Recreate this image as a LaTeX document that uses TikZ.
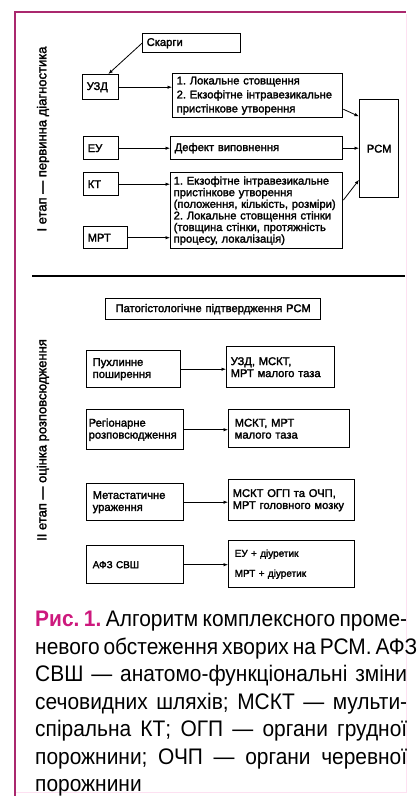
\documentclass[tikz,border=0pt]{standalone}
\usepackage{fontspec}
\usepackage{xcolor}
\usepackage{tikz}
\usetikzlibrary{arrows.meta}

\setmainfont{Liberation Sans}
\newfontfamily\diafont{Liberation Sans}[FakeBold=2]
\newfontfamily\capfont{Liberation Sans}[FakeStretch=0.93]

\definecolor{framemag}{RGB}{170,40,110}
\definecolor{rismag}{RGB}{205,25,125}

\newcommand{\capline}[1]{\makebox[372pt][s]{#1}}

\begin{document}
\frenchspacing
\begin{tikzpicture}[
                    x=1pt, y=-1pt,
                    box/.style={draw, line width=1.4pt, anchor=north west,
                        inner xsep=4pt, inner ysep=0pt, align=left,
                        font=\diafont\fontsize{11.2}{12}\selectfont},
                    arr/.style={-{Latex[length=4.5pt,width=3.5pt]}, line width=0.8pt},
                    stagelabel/.style={rotate=90, inner sep=0pt,
                        font=\diafont\fontsize{13}{14}\selectfont}
                    ]
                \useasboundingbox (0,0) rectangle (420,796);

                % frame
                \draw[
                    color=magenta!12,
                    line width=1pt
                    ] (406,14) -- (406,792) -- (15,792);
                \draw[
                    color=framemag,
                    line width=2.2pt
                    ] (15,796) -- (15,12) -- (406,12);

                % I stage
                \node[stagelabel] (stage1) at (43,139) {I етап — первинна діагностика};

                \node[box, text width=90pt, minimum height=19pt] (skargy) at (142,33) {Скарги};
                \node[box, text width=28pt, minimum height=25pt] (uzd) at (82,74) {УЗД};
                \node[box, text width=162pt, minimum height=44pt,
                    font=\diafont\fontsize{11.2}{14}\selectfont] (loc) at (172,73)
                    {1. Локальне стовщення\\2. Екзофітне інтравезикальне\\пристінкове утворення};
                \node[box, text width=31pt, minimum height=98pt, align=center] (rsm) at (359,99) {РСМ};
                \node[box, text width=27pt, minimum height=23pt] (eu) at (83,136) {ЕУ};
                \node[box, text width=164pt, minimum height=23pt] (defect) at (170,136) {Дефект виповнення};
                \node[box, text width=27pt, minimum height=23pt] (kt) at (83,172) {КТ};
                \node[box, text width=166pt, minimum height=76pt, inner xsep=3pt,
                    font=\diafont\fontsize{11.2}{11.6}\selectfont] (ctbox) at (170,172)
                    {1. Екзофітне інтравезикальне\\пристінкове утворення\\(положення, кількість, розміри)\\2. Локальне стовщення стінки\\(товщина стінки, протяжність\\процесу, локалізація)};
                \node[box, text width=36pt, minimum height=22pt] (mrt) at (83,226) {МРТ};

                \draw[arr] (skargy.west) -- (uzd.60);
                \draw[arr] (uzd.east) -- (uzd.east -| loc.west);
                \draw[arr] (loc.-9) -- (rsm.122);
                \draw[arr] (eu.east) -- (defect.west);
                \draw[arr] (defect.east) -- (defect.east -| rsm.west);
                \draw[arr] (kt.east) -- (kt.east -| ctbox.west);
                \draw[arr] (mrt.east) -- (mrt.east -| ctbox.west);
                \draw[arr] (ctbox.7) -- (rsm.237);

                \draw[
                    line width=1.2pt
                    ] (32,276) -- (405,276);

                % II stage
                \node[stagelabel] (stage2) at (43,440) {II етап — оцінка розповсюдження};

                \node[box, text width=207pt, minimum height=21pt, align=center] (pato) at (105,298) {Патогістологічне підтвердження РСМ};

                \node[box, minimum height=37pt, inner xsep=6pt, text width=82pt] (tumor) at (86,350) {Пухлинне\\поширення};
                \node[box, text width=100pt, minimum height=41pt] (tumorm) at (226,346) {УЗД, МСКТ,\\МРТ малого таза};
                \node[box, text width=93pt, minimum height=40pt, inner xsep=2pt] (region) at (86,409) {Регіонарне\\розповсюдження};
                \node[box, text width=109pt, minimum height=38pt, inner xsep=6pt] (regionm) at (228,409) {МСКТ, МРТ\\малого таза};
                \node[box, text width=85pt, minimum height=37pt, inner xsep=6pt] (meta) at (86,483) {Метастатичне\\ураження};
                \node[box, text width=118pt, minimum height=41pt] (metam) at (228,479) {МСКТ ОГП та ОЧП,\\МРТ головного мозку};
                \node[box, text width=85pt, minimum height=38pt, inner xsep=6pt,
                    font=\diafont\fontsize{10}{12}\selectfont] (afz) at (86,545) {АФЗ СВШ};
                \node[box, text width=114pt, minimum height=47pt, inner xsep=6pt,
                    font=\diafont\fontsize{10}{20}\selectfont] (afzm) at (228,540) {ЕУ + діуретик\\МРТ + діуретик};

                \draw[arr] (tumor.east) -- (tumor.east -| tumorm.west);
                \draw[arr] (region.east) -- (region.east -| regionm.west);
                \draw[arr] (meta.east) -- (meta.east -| metam.west);
                \draw[arr] (afz.east) -- (afz.east -| afzm.west);

                % caption
                \node[anchor=north west, inner sep=0pt, align=left,
                    font=\capfont\fontsize{22.5}{27.5}\selectfont] (caption) at (35,611)
                    {\capline{\textcolor{rismag}{\bfseries Рис. 1.} Алгоритм комплексного проме-}\\
                     \capline{невого обстеження хворих на РСМ. АФЗ}\\
                     \capline{СВШ — анатомо-функціональні зміни}\\
                     \capline{сечовидних шляхів; МСКТ — мульти-}\\
                     \capline{спіральна КТ; ОГП — органи грудної}\\
                     \capline{порожнини; ОЧП — органи черевної}\\
                     порожнини};
            \end{tikzpicture}
\end{document}
